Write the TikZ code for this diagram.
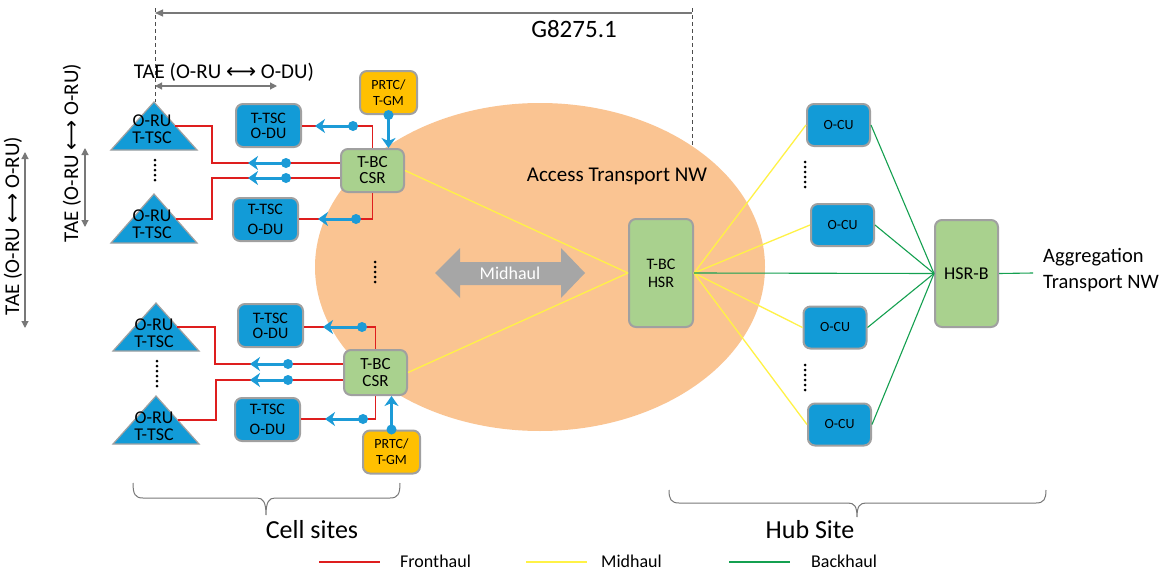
\documentclass[tikz,border=0pt]{standalone}
\usepackage{fontspec}
\setmainfont{Carlito}
\newfontfamily\symfont{DejaVu Sans}
\usetikzlibrary{arrows.meta,shapes.geometric}
\definecolor{boxblue}{RGB}{18,155,215}
\definecolor{arrblue}{RGB}{28,155,215}
\definecolor{bordergray}{RGB}{160,160,160}
\definecolor{boxgreen}{RGB}{169,209,142}
\definecolor{boxorange}{RGB}{255,192,0}
\definecolor{ellorange}{RGB}{250,196,146}
\definecolor{frred}{RGB}{222,30,30}
\definecolor{midyellow}{RGB}{255,242,70}
\definecolor{bkgreen}{RGB}{20,160,80}
\definecolor{arrgray}{RGB}{120,120,120}
\definecolor{midgray}{RGB}{166,166,166}
\newcommand{\syncarrow}[2]{\draw[sync] (#1) -- (#2); \fill[arrblue] (#1) circle (5);}
\tikzset{
  boxbase/.style={rounded corners=7pt, draw=bordergray, line width=2pt, inner sep=0pt, align=center},
  bluebox/.style={boxbase, fill=boxblue, minimum width=65, minimum height=43, font=\fontsize{16}{15}\selectfont},
  ocubox/.style={boxbase, fill=boxblue, minimum width=63, minimum height=42, font=\fontsize{14}{14}\selectfont},
  greenbox/.style={boxbase, fill=boxgreen, font=\fontsize{16}{16}\selectfont},
  orangebox/.style={boxbase, fill=boxorange, minimum width=57, minimum height=43, font=\fontsize{14}{16}\selectfont},
  tri/.style={fill=boxblue, draw=bordergray, line width=1.2pt},
  tritext/.style={align=center, inner sep=0pt, font=\fontsize{18}{17.5}\selectfont},
  fh/.style={draw=frred, line width=1.3pt},
  mh/.style={draw=midyellow, line width=1.3pt},
  bh/.style={draw=bkgreen, line width=1.1pt},
  sync/.style={draw=arrblue, line width=3pt, -{Stealth[length=10pt,width=14pt,inset=3pt]}},
  tae/.style={draw=arrgray, line width=1.2pt, {Triangle[length=7pt,width=7pt]}-{Triangle[length=7pt,width=7pt]}},
  dashline/.style={draw=black!70, line width=0.8pt, dash pattern=on 4pt off 3pt},
  dotcol/.style={draw=black, line width=3pt, line cap=round, dash pattern=on 0pt off 5pt},
  brace/.style={draw=arrgray, line width=1pt},
  lbl/.style={inner sep=0pt, font=\fontsize{21}{22}\selectfont},
  biglbl/.style={inner sep=0pt, font=\fontsize{26}{28}\selectfont},
  leg/.style={inner sep=0pt, anchor=base west, font=\fontsize{18}{20}\selectfont},
}
\begin{document}
\begin{tikzpicture}[x=1pt,y=-1pt]
\useasboundingbox (0,0) rectangle (1163,570);
\fill[white] (0,0) rectangle (1163,570);

% access transport network ellipse
\node[ellipse, fill=ellorange, minimum width=450, minimum height=328, inner sep=0pt] (atn) at (540,267) {};
\node[lbl] (atnlbl) at (617,176) {Access Transport NW};

% dashed markers and G8275.1
\coordinate (gl) at (155,13);
\coordinate (gr) at (692,13);
\draw[dashline] (155,8) -- (155,102);
\draw[dashline] (692,8) -- (692,145);
\draw[draw=arrgray, line width=1.2pt, -{Triangle[length=8pt,width=7pt]}] (gr) -- (gl);
\node[lbl, font=\fontsize{25}{27}\selectfont] (g8275) at (574,29) {G8275.1};

% TAE labels
\node[lbl] (taetop) at (224,72) {TAE (O-RU {\symfont ⟷} O-DU)};
\coordinate (taet1) at (155,86);
\coordinate (taet2) at (277,86);
\draw[tae] (taet1) -- (taet2);
\node[lbl, rotate=90] (taemid) at (72,153) {TAE (O-RU {\symfont ⟷} O-RU)};
\coordinate (taem1) at (85,148);
\coordinate (taem2) at (85,227);
\draw[tae] (taem1) -- (taem2);
\node[lbl, rotate=90] (taeout) at (13,226) {TAE (O-RU {\symfont ⟷} O-RU)};
\coordinate (taeo1) at (25,152);
\coordinate (taeo2) at (25,328);
\draw[tae] (taeo1) -- (taeo2);

% triangles (O-RU / T-TSC)
\draw[tri] (154,102) -- (197,150) -- (111,150) -- cycle;
\draw[tri] (154,194) -- (197,243) -- (111,243) -- cycle;
\draw[tri] (156,303) -- (199,351) -- (113,351) -- cycle;
\draw[tri] (156,396) -- (199,444) -- (113,444) -- cycle;
\node[tritext] (ru1) at (152,129) {O-RU\\T-TSC};
\node[tritext] (ru2) at (152,224) {O-RU\\T-TSC};
\node[tritext] (ru3) at (154,333) {O-RU\\T-TSC};
\node[tritext] (ru4) at (154,426) {O-RU\\T-TSC};
\coordinate (ru1p) at (175,126);
\coordinate (ru2p) at (176,219);
\coordinate (ru3p) at (177,327);
\coordinate (ru4p) at (178,420);
\draw[dotcol] (155,160) -- (155,184);
\draw[dotcol] (157,361) -- (157,388);

% O-DU boxes
\node[bluebox] (du1) at (268.5,125.5) {T-TSC\\O-DU};
\node[bluebox] (du2) at (265.5,219.5) {T-TSC\\[5pt]O-DU};
\node[bluebox] (du3) at (270.5,325.5) {T-TSC\\O-DU};
\node[bluebox] (du4) at (267.5,419.5) {T-TSC\\[5pt]O-DU};

% CSR boxes
\node[greenbox, minimum width=63, minimum height=43, font=\fontsize{17}{16}\selectfont] (csr1) at (372.5,170.5) {T-BC\\CSR};
\node[greenbox, minimum width=63, minimum height=45, font=\fontsize{17}{17}\selectfont] (csr2) at (375.5,372.5) {T-BC\\CSR};

% PRTC boxes
\node[orangebox] (prtc1) at (388.5,92.5) {PRTC/\\T-GM};
\node[orangebox] (prtc2) at (391.5,452) {PRTC/\\T-GM};

% fronthaul (red)
\draw[fh] (ru1p) -- (212,126) -- (212,163) -- (csr1.west |- 212,163);
\draw[fh] (ru2p) -- (212,219) -- (212,178) -- (csr1.west |- 212,178);
\draw[fh] (du1.east |- 0,126) -| (csr1.north);
\draw[fh] (du2.east |- 0,219) -| (csr1.south);
\draw[fh] (ru3p) -- (215,327) -- (215,364) -- (csr2.west |- 215,364);
\draw[fh] (ru4p) -- (216,420) -- (216,380) -- (csr2.west |- 216,380);
\draw[fh] (du3.east |- 0,327) -| (csr2.north);
\draw[fh] (du4.east |- 0,419) -| (csr2.south);

% sync arrows
\draw[sync] (prtc1.south) -- (prtc1.south |- csr1.north);
\fill[arrblue] (prtc1.south) circle (5);
\draw[sync] (prtc2.north) -- (prtc2.north |- csr2.south);
\fill[arrblue] (prtc2.north) circle (5);
\syncarrow{353,126}{315,126}
\syncarrow{286,163}{248,163}
\syncarrow{286,178}{248,178}
\syncarrow{356,219}{318,219}
\syncarrow{362,327}{323,327}
\syncarrow{288,364}{250,364}
\syncarrow{288,380}{250,380}
\syncarrow{363,419}{325,419}

% midhaul dots and arrow
\draw[dotcol] (375,262) -- (375,286);
\fill[midgray] (435,273) -- (460,248) -- (460,262) -- (561,262) -- (561,248) -- (585,273)
  -- (561,298) -- (561,285) -- (460,285) -- (460,298) -- cycle;
\node[lbl, text=white, font=\fontsize{18}{20}\selectfont] (midlbl) at (510,273) {Midhaul};

% HSR
\node[greenbox, minimum width=64, minimum height=108] (hsr) at (661,273) {T-BC\\[2pt]HSR};
\draw[mh] (csr1.east) -- (hsr.west);
\draw[mh] (csr2.east) -- (hsr.west);

% O-CU boxes
\node[ocubox] (cu1) at (838.5,125) {O-CU};
\node[ocubox] (cu2) at (842.5,225) {O-CU};
\node[ocubox] (cu3) at (835,327.5) {O-CU};
\node[ocubox] (cu4) at (839.5,424.5) {O-CU};
\draw[dotcol] (805,162) -- (805,188);
\draw[dotcol] (805,365) -- (805,391);

% HSR-B
\node[greenbox, minimum width=63, minimum height=107, font=\fontsize{18}{18}\selectfont] (hsrb) at (966.5,273.5) {HSR-B};

\foreach \c in {cu1,cu2,cu3,cu4} {
  \draw[mh] (hsr.east) -- (\c.west);
  \draw[bh] (\c.east) -- (hsrb.west);
}
\draw[bh] (hsr.east) -- (hsrb.west);
\coordinate (aggend) at (1033,273);
\draw[bh] (hsrb.east) -- (aggend);
\node[lbl, anchor=west, align=left, font=\fontsize{20.5}{26}\selectfont] (agg) at (1043,270) {Aggregation\\Transport NW};

% braces
\draw[brace] (133,483) .. controls (133,494) and (135,498) .. (143,498) -- (257,498)
  .. controls (263,498) and (266,502) .. (266,515) .. controls (266,502) and (269,498) .. (275,498)
  -- (390,498) .. controls (398,498) and (400,494) .. (400,483);
\draw[brace] (669,490) .. controls (669,499) and (671,503) .. (679,503) -- (848,503)
  .. controls (854,503) and (857,506) .. (857,517) .. controls (857,506) and (860,503) .. (866,503)
  -- (1036,503) .. controls (1044,503) and (1046,499) .. (1046,490);
\node[biglbl] (cells) at (312,530) {Cell sites};
\node[biglbl] (hub) at (810,530) {Hub Site};

% legend
\coordinate (lr1) at (319,562); \coordinate (lr2) at (380,562);
\coordinate (ly1) at (526,562); \coordinate (ly2) at (587,562);
\coordinate (lg1) at (729,562); \coordinate (lg2) at (790,562);
\draw[draw=frred, line width=2.5pt] (lr1) -- (lr2);
\draw[draw=midyellow, line width=2.5pt] (ly1) -- (ly2);
\draw[draw=bkgreen, line width=2.5pt] (lg1) -- (lg2);
\node[leg] (legfh) at (400,567) {Fronthaul};
\node[leg] (legmh) at (601,567) {Midhaul};
\node[leg] (legbh) at (811,567) {Backhaul};
\end{tikzpicture}
\end{document}
